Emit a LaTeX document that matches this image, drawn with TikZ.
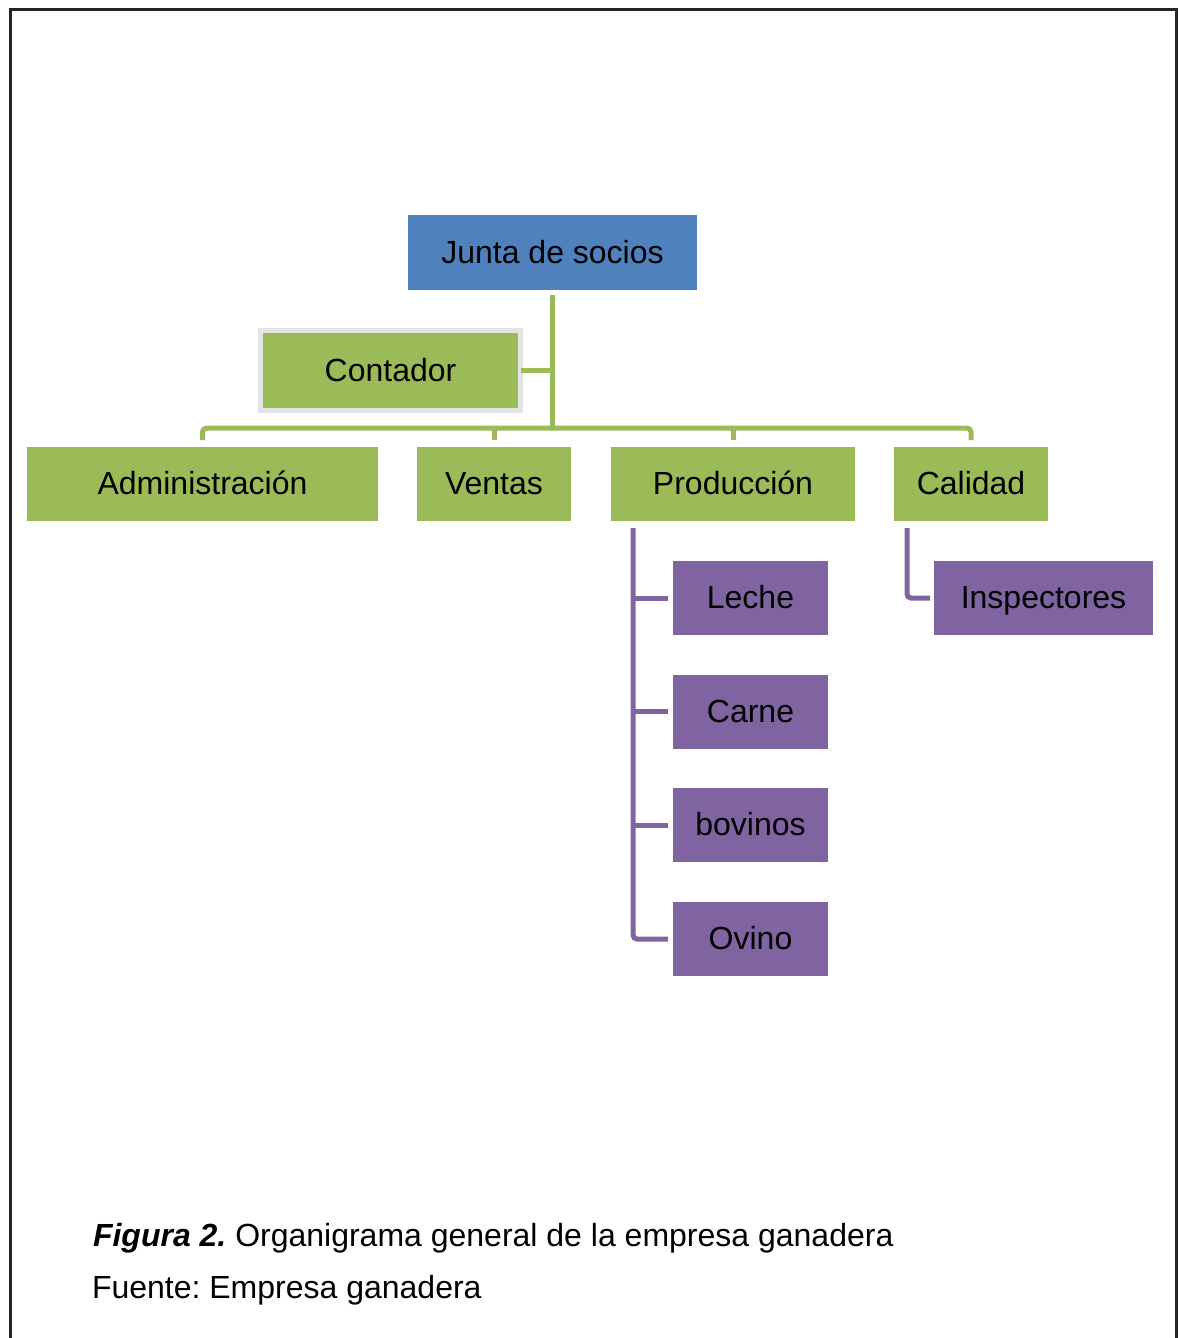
\documentclass[tikz,border=0pt]{standalone}
\usepackage{fontspec}
\setmainfont{Liberation Sans}
\usetikzlibrary{calc}
\definecolor{boxblue}{HTML}{4F81BD}
\definecolor{boxgreen}{HTML}{9BBB59}
\definecolor{boxpurple}{HTML}{8064A2}
\definecolor{shadowgray}{HTML}{E4E4E4}
\frenchspacing
\begin{document}
\begin{tikzpicture}[x=1pt,y=-1pt,
  every node/.style={inner sep=0pt, outer sep=0pt},
  label font/.style={font=\fontsize{32}{38}\selectfont},
  orgbox/.style={label font, text height=21pt, text depth=0pt, align=center, minimum height=74},
  bluebox/.style={orgbox, fill=boxblue},
  greenbox/.style={orgbox, fill=boxgreen},
  purplebox/.style={orgbox, fill=boxpurple},
  gline/.style={draw=boxgreen, line width=5pt},
  pline/.style={draw=boxpurple, line width=5pt}]
\useasboundingbox (0,0) rectangle (1178,1338);

% outer frame (open at the bottom)
\draw[line width=3pt, black!85] (10.5,1338) -- (10.5,9.5) -- (1176.5,9.5) -- (1176.5,1338);

% top level
\node[bluebox, minimum width=289, minimum height=75] (junta) at (552.5,252.5) {Junta de socios};

% staff position
\node[greenbox, draw=shadowgray, line width=5pt, minimum width=260, minimum height=80] (contador) at (390.5,370.5) {Contador};

% second level
\node[greenbox, minimum width=351] (admin) at (202.5,484) {Administración};
\node[greenbox, minimum width=154] (ventas) at (494,484) {Ventas};
\node[greenbox, minimum width=244] (produccion) at (733,484) {Producción};
\node[greenbox, minimum width=154] (calidad) at (971,484) {Calidad};

% third level
\node[purplebox, minimum width=155] (leche) at (750.5,598) {Leche};
\node[purplebox, minimum width=155] (carne) at (750.5,711.5) {Carne};
\node[purplebox, minimum width=155] (bovinos) at (750.5,825) {bovinos};
\node[purplebox, minimum width=155] (ovino) at (750.5,939) {Ovino};
\node[purplebox, minimum width=219] (inspectores) at (1043.5,598) {Inspectores};

% green connectors
\coordinate (hub) at ($(junta.south)+(0,138)$);
\draw[gline] ($(junta.south)+(0,5)$) -- (hub);
\draw[gline] (contador.east) -- (contador.east -| hub);
\draw[gline, rounded corners=4pt] ($(admin.north)+(0,-7)$) |- (hub) -| ($(calidad.north)+(0,-7)$);
\draw[gline] ($(ventas.north)+(0,-7)$) -- (ventas.north |- hub);
\draw[gline] ($(produccion.north)+(0,-7)$) -- (produccion.north |- hub);

% purple connectors
\coordinate (ptrunk) at ($(produccion.south west)+(22,7)$);
\draw[pline, rounded corners=4pt] (ptrunk) |- ($(ovino.west)+(-5,0)$);
\draw[pline] ($(leche.west)+(-5,0)$) -- (leche.west -| ptrunk);
\draw[pline] ($(carne.west)+(-5,0)$) -- (carne.west -| ptrunk);
\draw[pline] ($(bovinos.west)+(-5,0)$) -- (bovinos.west -| ptrunk);
\coordinate (ctrunk) at ($(calidad.south west)+(13,7)$);
\draw[pline, rounded corners=4pt] (ctrunk) |- ($(inspectores.west)+(-4,0)$);

% caption
\node[label font, anchor=base west] (caption) at (93,1246) {\textbf{\textit{Figura 2.}} Organigrama general de la empresa ganadera};
\node[label font, anchor=base west] (source) at (92,1298) {Fuente: Empresa ganadera};
\end{tikzpicture}
\end{document}
